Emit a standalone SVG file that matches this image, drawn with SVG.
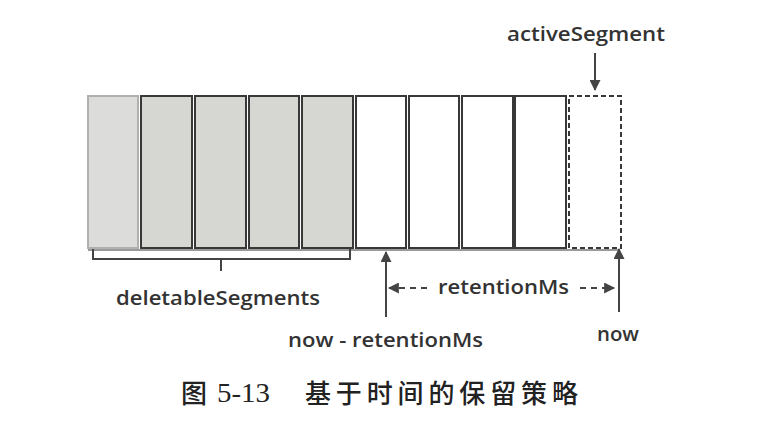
<svg xmlns="http://www.w3.org/2000/svg" width="758" height="428" viewBox="0 0 758 428">
<style>
.seg{fill:#d6d6d3;stroke:#383838;stroke-width:2}
.seg1{fill:#dcdcdb;stroke:#b0b0b0;stroke-width:2}
.new{fill:#ffffff;stroke:#383838;stroke-width:2}
.act{fill:#ffffff;stroke:#383838;stroke-width:2;stroke-dasharray:5 3}
.lbl{font-family:"Open Sans","Liberation Sans",sans-serif;font-size:20px;font-weight:600;fill:#333333}
.ln{stroke:#444444;stroke-width:2;fill:none}
.cap{font-family:"Noto Sans CJK SC","Noto Sans CJK JP",sans-serif;font-size:26px;font-weight:500;fill:#222222}
</style>
<defs>
<marker id="ah" viewBox="0 0 10 10" refX="9" refY="5" markerWidth="6" markerHeight="5.5" orient="auto-start-reverse" markerUnits="strokeWidth">
<path d="M0,0 L10,5 L0,10 z" fill="#444444"/>
</marker>
</defs>
<rect width="758" height="428" fill="#ffffff"/>
<line x1="88" y1="250" x2="620" y2="250" stroke="#9a9a9a" stroke-width="2"/>
<g id="seg1"><rect class="seg1" x="88" y="96" width="50" height="152"/></g>
<g id="seg2"><rect class="seg" x="141" y="96" width="51" height="152"/></g>
<g id="seg3"><rect class="seg" x="195" y="96" width="51" height="152"/></g>
<g id="seg4"><rect class="seg" x="249" y="96" width="50" height="152"/></g>
<g id="seg5"><rect class="seg" x="302" y="96" width="51" height="152"/></g>
<g id="seg6"><rect class="new" x="356" y="96" width="50" height="152"/></g>
<g id="seg7"><rect class="new" x="409" y="96" width="50" height="152"/></g>
<g id="seg8"><rect class="new" x="462" y="96" width="51" height="152"/></g>
<g id="seg9"><rect class="new" x="515" y="96" width="51" height="152"/></g>
<g id="activeSegmentBox"><rect class="act" x="569" y="96" width="52" height="152"/></g>
<g id="labels">
<text class="lbl" x="507" y="41" textLength="158" lengthAdjust="spacingAndGlyphs">activeSegment</text>
<text class="lbl" x="116" y="305" textLength="204" lengthAdjust="spacingAndGlyphs">deletableSegments</text>
<text class="lbl" x="438" y="294" textLength="131" lengthAdjust="spacingAndGlyphs">retentionMs</text>
<text class="lbl" x="288" y="347" textLength="195" lengthAdjust="spacingAndGlyphs">now - retentionMs</text>
<text class="lbl" x="597" y="341" textLength="42" lengthAdjust="spacingAndGlyphs">now</text>
</g>
<g id="connectors">
<path class="ln" d="M93,249 V259 H350 V249"/>
<path class="ln" d="M221,259 V271"/>
<line class="ln" x1="595" y1="53" x2="595" y2="90" marker-end="url(#ah)"/>
<line class="ln" x1="386" y1="317" x2="386" y2="252" marker-end="url(#ah)"/>
<line class="ln" x1="619" y1="312" x2="619" y2="249" marker-end="url(#ah)"/>
<line class="ln" x1="427" y1="288" x2="389" y2="288" stroke-dasharray="6 5" marker-end="url(#ah)"/>
<line class="ln" x1="580" y1="288" x2="614" y2="288" stroke-dasharray="6 5" marker-end="url(#ah)"/>
</g>
<g id="caption">
<text class="cap" x="181" y="403">图</text>
<text x="217" y="402" font-family="Liberation Serif,serif" font-size="28" fill="#222222" textLength="53" lengthAdjust="spacingAndGlyphs">5-13</text>
<text class="cap" x="305" y="403" textLength="273" lengthAdjust="spacing">基于时间的保留策略</text>
</g>
</svg>
